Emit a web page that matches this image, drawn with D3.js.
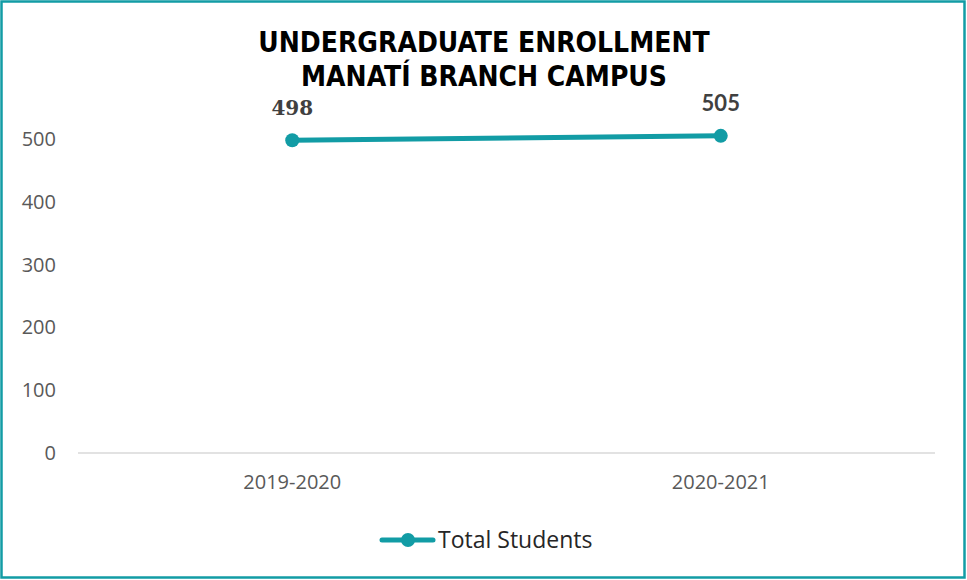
<!DOCTYPE html>
<html><head><meta charset="utf-8">
<script src="https://cdn.jsdelivr.net/npm/d3@7/dist/d3.min.js"></script>
<style>body{margin:0;background:#fff}</style>
</head><body>
<svg id="c" width="967" height="580"></svg>
<script>
const categories = ["2019-2020", "2020-2021"];
const values = [498, 505];
const yTicks = [0, 100, 200, 300, 400, 500];
const titleLines = ["UNDERGRADUATE ENROLLMENT", "MANATÍ BRANCH CAMPUS"];
const seriesName = "Total Students";

(function(){
const color = "#129ca5";
const svg = d3.select("#c");
svg.append("rect").attr("x",1.5).attr("y",1.5).attr("width",963).attr("height",576)
  .attr("fill","#fff").attr("stroke",color).attr("stroke-width",2.5);

const pLeft = 78, pRight = 935, pTop = 139, pBottom = 453;
const x = d3.scaleBand().domain(categories).range([pLeft, pRight]);
const y = d3.scaleLinear().domain([0, 500]).range([pBottom, pTop]);

svg.append("g").selectAll("text").data(titleLines).join("text")
  .attr("x", 484).attr("y", (d,i)=>52 + i*34)
  .attr("text-anchor","middle")
  .attr("font-family","'DejaVu Sans Condensed','DejaVu Sans'")
  .attr("font-stretch","condensed")
  .attr("font-weight","bold").attr("font-size",28).attr("fill","#000")
  .text(d=>d);

const ya = svg.append("g").attr("transform",`translate(${pLeft},0)`)
  .call(d3.axisLeft(y).tickValues(yTicks).tickSize(0).tickPadding(22));
ya.select(".domain").remove();
ya.selectAll("text").attr("font-family","'Open Sans', 'Liberation Sans'").attr("font-size",20).attr("fill","#595959");

svg.append("line").attr("x1",pLeft).attr("x2",pRight).attr("y1",y(0)).attr("y2",y(0))
  .attr("stroke","#d9d9d9").attr("stroke-width",1.5);

const xa = svg.append("g").attr("transform",`translate(0,${pBottom})`)
  .call(d3.axisBottom(x).tickSize(0).tickPadding(22));
xa.select(".domain").remove();
xa.selectAll("text").attr("font-family","'Open Sans', 'Liberation Sans'").attr("font-size",20).attr("fill","#595959");

const cx = d => x(d) + x.bandwidth()/2;
const data = categories.map((c,i)=>({c, v: values[i]}));

svg.append("path").datum(data)
  .attr("d", d3.line().x(d=>cx(d.c)).y(d=>y(d.v)))
  .attr("fill","none").attr("stroke",color).attr("stroke-width",5).attr("stroke-linecap","round");
svg.append("g").selectAll("circle").data(data).join("circle")
  .attr("cx",d=>cx(d.c)).attr("cy",d=>y(d.v)).attr("r",7).attr("fill",color);

svg.append("g").selectAll("text").data(data).join("text")
  .attr("x",d=>cx(d.c)).attr("y",d=>y(d.v)-25)
  .attr("text-anchor","middle")
  .attr("font-family",(d,i)=> i===0 ? "'DejaVu Serif', 'Liberation Serif'" : "Lato, 'Open Sans'")
  .attr("font-weight",(d,i)=> i===0 ? "bold" : "bold")
  .attr("font-size",(d,i)=> i===0 ? 20 : 22).attr("fill","#404040")
  .text(d=>d.v);

const lg = svg.append("g");
lg.append("line").attr("x1",382).attr("x2",433).attr("y1",540).attr("y2",540)
  .attr("stroke",color).attr("stroke-width",5).attr("stroke-linecap","round");
lg.append("circle").attr("cx",408).attr("cy",540).attr("r",7).attr("fill",color);
lg.append("text").attr("x",438).attr("y",548)
  .attr("font-family","'Open Sans', 'Liberation Sans'").attr("font-size",23).attr("fill","#262626")
  .text(seriesName);
})();
</script>
</body></html>
